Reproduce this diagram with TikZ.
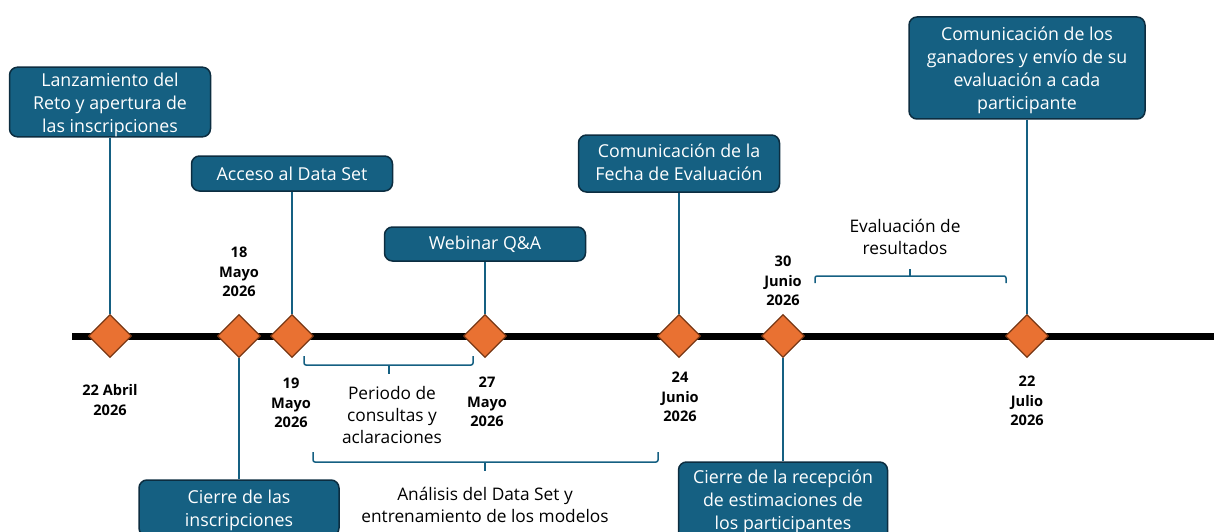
\documentclass[tikz,border=0pt]{standalone}
\usepackage{fontspec}
\setmainfont{Open Sans}
\usetikzlibrary{shapes.geometric}
\definecolor{cajaazul}{RGB}{21,96,130}
\definecolor{cajaborde}{RGB}{12,45,64}
\definecolor{hitonaranja}{RGB}{233,113,50}
\definecolor{hitoborde}{RGB}{120,55,20}

\begin{document}
\begin{tikzpicture}[x=1pt,y=-1pt,
  hito/.style={diamond,draw=hitoborde,fill=hitonaranja,line width=1.2pt,inner sep=0pt,minimum width=43pt,minimum height=43pt},
  evento/.style={draw=cajaborde,fill=cajaazul,line width=1.5pt,rounded corners=8pt,text=white,align=center,inner sep=0pt,font=\fontsize{17.8}{23}\selectfont},
  fecha/.style={align=center,font=\bfseries\fontsize{14.6}{19.5}\selectfont},
  periodo/.style={align=center,font=\fontsize{17.3}{22}\selectfont},
  tallo/.style={draw=cajaazul,line width=1.5pt},
  llave/.style={draw=cajaazul,line width=1.5pt,rounded corners=2pt}]
\clip (0,0) rectangle (1214,532);
\coordinate (ini) at (72,336);
\coordinate (fin) at (1220,336);
\draw[line width=7pt] (ini) -- (fin);

\node[evento,minimum width=201pt,minimum height=68pt,text height=65.3pt] (lanz) at (110,102) {Lanzamiento del\\Reto y apertura de\\las inscripciones};
\node[evento,minimum width=201pt,minimum height=35pt,text height=14pt] (acceso) at (292,173.5) {Acceso al Data Set};
\node[evento,minimum width=201pt,minimum height=34pt,text height=14pt] (webinar) at (485,244) {Webinar Q\&A};
\node[evento,minimum width=201pt,minimum height=57pt,text height=35pt] (fecha) at (679,163.5) {Comunicación de la\\Fecha de Evaluación};
\node[evento,minimum width=236pt,minimum height=102pt,text height=86.3pt] (ganadores) at (1027,68) {Comunicación de los\\ganadores y envío de su\\evaluación a cada\\participante};
\node[evento,minimum width=200pt,minimum height=56pt,text height=40.3pt] (cierre) at (239,508) {Cierre de las\\inscripciones};
\node[evento,minimum width=209pt,minimum height=78pt,text height=61.3pt] (recepcion) at (783,501) {Cierre de la recepción\\de estimaciones de\\los participantes};

\node[hito] (d1) at (110,336) {};
\node[hito] (d2) at (239,336) {};
\node[hito] (d3) at (292,336) {};
\node[hito] (d4) at (485,336) {};
\node[hito] (d5) at (679,336) {};
\node[hito] (d6) at (783,336) {};
\node[hito] (d7) at (1027,336) {};

\draw[tallo] (lanz) -- (d1);
\draw[tallo] (d2) -- (cierre);
\draw[tallo] (acceso) -- (d3);
\draw[tallo] (webinar) -- (d4);
\draw[tallo] (fecha) -- (d5);
\draw[tallo] (d6) -- (recepcion);
\draw[tallo] (ganadores) -- (d7);

\node[fecha] (f1) at (110,400) {22 Abril\\2026};
\node[fecha] (f2) at (239,272) {18\\Mayo\\2026};
\node[fecha] (f3) at (291,403) {19\\Mayo\\2026};
\node[fecha] (f4) at (487,402) {27\\Mayo\\2026};
\node[fecha] (f5) at (680,397) {24\\Junio\\2026};
\node[fecha] (f6) at (783,281) {30\\Junio\\2026};
\node[fecha] (f7) at (1027,401) {22\\Julio\\2026};

\draw[llave] (304,356) -- (304,365) -- (473,365) -- (473,356);
\draw[llave] (389,365) -- (389,374);
\node[periodo] (consultas) at (392,415) {Periodo de\\consultas y\\aclaraciones};
\draw[llave] (313,452) -- (313,462) -- (658,462) -- (658,452);
\draw[llave] (485,462) -- (485,471);
\node[periodo] (analisis) at (485,505) {Análisis del Data Set y\\entrenamiento de los modelos};
\draw[llave] (815,283) -- (815,276) -- (1006,276) -- (1006,283);
\draw[llave] (910,276) -- (910,269);
\node[periodo] (evaluacion) at (905,237) {Evaluación de\\resultados};
\end{tikzpicture}
\end{document}
